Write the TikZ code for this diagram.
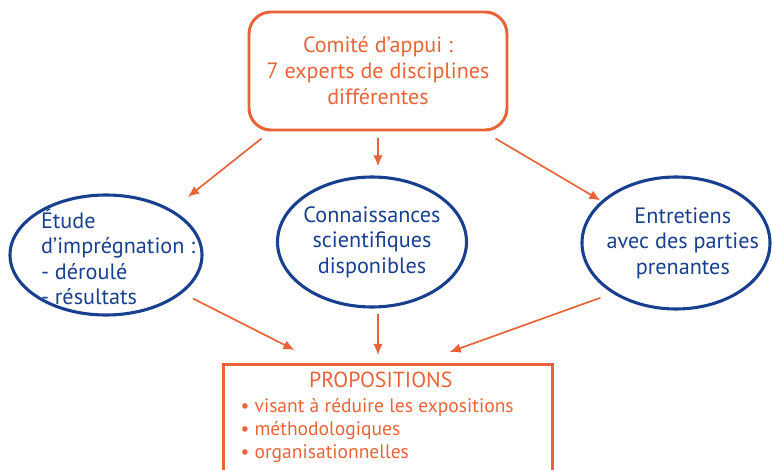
\documentclass[tikz,border=0pt]{standalone}
\usepackage{fontspec}
\setmainfont{PT Sans}
\usetikzlibrary{arrows.meta,shapes.geometric}
\definecolor{orangeavis}{RGB}{232,100,56}
\definecolor{bleuavis}{RGB}{24,64,142}

\begin{document}
\begin{tikzpicture}[>={Latex[length=2.8mm,width=2.4mm]},thick]
        \tikzstyle{box} = [rectangle, draw=orangeavis, line width=2.1pt, text=orangeavis, align=center, inner sep=0pt]
        \tikzstyle{bulle} = [ellipse, draw=bleuavis, line width=2.2pt, inner sep=0pt]
        \tikzstyle{texte} = [text=bleuavis, inner sep=0pt, font=\fontsize{15.8}{18.2}\selectfont]
        \tikzstyle{arrow} = [->, orangeavis, line width=1.2pt]

        \useasboundingbox (0,0) rectangle (19.3,-11.75);

        % Nodes
        \node[box, rounded corners=0.55cm, minimum width=6.45cm, minimum height=2.95cm,
              font=\fontsize{15.7}{18.4}\selectfont] (comite) at (9.45,-1.775)
              {Comité d’appui :\\7 experts de disciplines\\différentes};

        \node[bulle, minimum width=4.8cm, minimum height=3.0cm] (etude) at (2.65,-6.375) {};
        \node[bulle, minimum width=4.725cm, minimum height=3.25cm] (connais) at (9.3,-6.05) {};
        \node[bulle, minimum width=4.7cm, minimum height=3.3cm] (entretiens) at (16.9,-6.075) {};

        \node[texte, align=left, anchor=west] (etudetxt) at ([xshift=0.8cm,yshift=-0.05cm]etude.west)
              {Étude\\d’imprégnation :\\- déroulé\\- résultats};
        \node[texte, align=center] (connaistxt) at (connais) {Connaissances\\scientifiques\\disponibles};
        \node[texte, align=center] (entretienstxt) at ([xshift=0.17cm]entretiens) {Entretiens\\avec des parties\\prenantes};

        % Output box (runs past the bottom edge)
        \node[box, anchor=north, minimum width=8.225cm, minimum height=3cm] (prop) at (9.69,-9.075) {};
        \node[text=orangeavis, inner sep=0pt, font=\fontsize{15.5}{18}\selectfont] (proptitre) at (9.52,-9.5) {PROPOSITIONS};
        \node[text=orangeavis, inner sep=0pt, align=left, anchor=north west,
              font=\fontsize{13.9}{16.2}\selectfont] (proplist) at (6.0,-9.95)
              {• visant à réduire les expositions\\• méthodologiques\\• organisationnelles};

        % Arrows from the committee
        \draw[arrow] ([shift={(0.35,-0.175)}]comite.south west) -- ([shift={(0.325,0.365)}]etude.north east);
        \draw[arrow, shorten <=0.175cm, shorten >=0.225cm] (comite.south) -- (comite.south |- connais.north);
        \draw[arrow] ([shift={(-0.325,-0.175)}]comite.south east) -- ([shift={(-0.2,-0.13)}]entretiens.north west);

        % Arrows to the proposals
        \draw[arrow] ([shift={(0.45,0)}]etude.south east) -- ([shift={(1.825,0.325)}]prop.north west);
        \draw[arrow, shorten <=0.125cm, shorten >=0.2cm] (comite.south |- connais.south) -- (comite.south |- prop.north);
        \draw[arrow] ([shift={(-0.2,-0.175)}]entretiens.south west) -- ([shift={(-2.6,0.275)}]prop.north east);
    \end{tikzpicture}
\end{document}
